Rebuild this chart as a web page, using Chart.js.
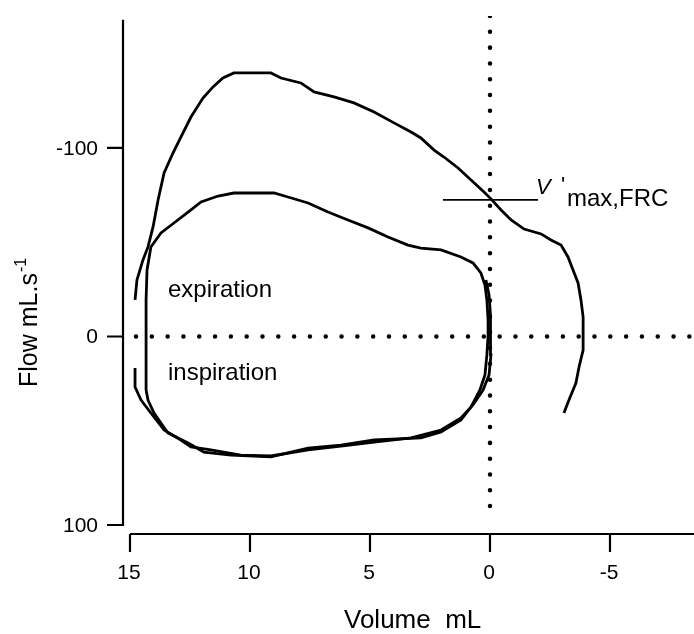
<!DOCTYPE html>
<html>
<head>
<meta charset="utf-8">
<script src="https://cdn.jsdelivr.net/npm/chart.js@4.4.0/dist/chart.umd.min.js"></script>
<style>
  body { margin: 0; background: #fff; }
  #wrap { width: 694px; height: 634px; position: relative; }
</style>
</head>
<body>
<div id="wrap"><canvas id="chart"></canvas></div>
<script>
// ---------------- DATA ----------------
// volume in mL, flow in mL/s (expiration plotted negative, upwards)

// raised-volume forced expiration
const forcedVolume = [14.79, 14.71, 14.46, 14.25, 14.04, 13.83, 13.58, 13.21, 12.88, 12.46,
  11.96, 11.54, 11.13, 10.67, 9.13, 8.71, 7.88, 7.33, 6.5, 5.67, 4.83, 4.0, 3.29, 2.88,
  2.33, 1.92, 1.33, 0.79, 0.25, -0.04, -0.46, -0.88, -1.42, -2.13, -2.54, -2.96, -3.25,
  -3.46, -3.67, -3.79, -3.88, -3.88, -3.88, -3.71, -3.58, -3.29, -3.08];
const forcedFlow = [-19.4, -30.0, -40.6, -47.5, -58.1, -72.4, -86.7, -97.3, -105.8, -116.4,
  -126.5, -132.4, -137.1, -139.8, -139.8, -137.1, -134.5, -129.7, -127.1, -123.9, -119.1,
  -113.3, -108.5, -105.3, -98.9, -95.2, -89.4, -83.0, -76.7, -73.0, -67.1, -61.8, -57.0,
  -54.4, -51.2, -48.5, -42.2, -35.3, -28.4, -19.4, -10.3, 0.3, 7.2, 16.2, 24.7, 33.7, 40.6];

// tidal loop 1
const tidalVolumeA = [14.33, 14.33, 14.33, 14.29, 14.13, 13.71, 13.17, 12.58, 12.04, 11.33,
  10.67, 9.0, 8.42, 7.58, 6.75, 5.92, 5.08, 4.25, 3.42, 2.88, 2.04, 1.21, 0.71, 0.38, 0.21,
  0.13, 0.08, 0.08, 0.13, 0.21, 0.42, 0.79, 1.21, 2.04, 2.88, 4.83, 6.21, 7.58, 9.13, 10.79,
  11.92, 12.58, 13.42, 14.0, 14.25, 14.33];
const tidalFlowA = [28.4, 1.9, -19.4, -35.3, -47.5, -54.9, -60.2, -66.0, -71.4, -74.5,
  -76.1, -76.1, -74.0, -70.8, -66.0, -61.8, -57.6, -52.8, -48.5, -46.9, -45.9, -42.2, -39.0,
  -33.7, -27.3, -19.4, -8.8, -0.3, 9.8, 20.4, 28.4, 37.4, 44.3, 50.7, 53.8, 54.9, 57.6, 59.2,
  63.9, 62.9, 61.3, 56.5, 51.2, 40.6, 33.7, 28.4];

// tidal loop 2 (inspiration from raised volume)
const tidalVolumeB = [14.79, 14.79, 14.54, 14.13, 13.58, 12.88, 12.46, 11.63, 10.38, 9.13,
  7.58, 6.21, 4.83, 3.29, 2.04, 1.21, 0.71, 0.29, 0.04, -0.04, -0.04, 0.0, 0.04, 0.17];
const tidalFlowB = [16.7, 26.8, 33.7, 40.6, 49.6, 54.9, 58.6, 60.2, 62.9, 63.4,
  60.2, 58.1, 56.0, 53.8, 49.6, 43.2, 36.3, 28.4, 20.4, 9.8, -0.3, -11.4, -22.0, -30.0];

// V'max,FRC marker
const frcVolume = [1.96, -2.0];
const frcFlow = [-72.5, -72.5];

// zero reference lines
const zeroVolumeLine = [14.75, -8.5];
const zeroFlowLine = [-170, 98];

const xTicks = [15, 10, 5, 0, -5];
const yTicks = [-100, 0, 100];

const FONT = "'Liberation Sans', Arial, sans-serif";

function toPoints(xs, ys) {
  return xs.map((x, i) => ({ x: x, y: ys[i] }));
}

// ---------------- AXES + TEXT ----------------
const axesPlugin = {
  id: "axes",
  afterDraw(chart) {
    const { ctx } = chart;
    const x = chart.scales.x;
    const y = chart.scales.y;
    ctx.save();
    ctx.strokeStyle = "#000";
    ctx.fillStyle = "#000";
    ctx.lineWidth = 2.2;

    // y axis (offset left of plot)
    const ax = 123;
    ctx.beginPath();
    ctx.moveTo(ax, y.getPixelForValue(-168));
    ctx.lineTo(ax, y.getPixelForValue(100) + 1);
    yTicks.forEach((t) => {
      const py = y.getPixelForValue(t);
      ctx.moveTo(107, py);
      ctx.lineTo(ax, py);
    });
    ctx.stroke();

    ctx.font = "21px " + FONT;
    ctx.textAlign = "right";
    ctx.textBaseline = "middle";
    yTicks.forEach((t) => {
      ctx.fillText(String(t), 98, y.getPixelForValue(t) + 1);
    });

    // x axis (offset below plot)
    const ay = 534;
    ctx.beginPath();
    ctx.moveTo(x.getPixelForValue(15), ay);
    ctx.lineTo(chart.width, ay);
    xTicks.forEach((t) => {
      const px = x.getPixelForValue(t);
      ctx.moveTo(px, ay);
      ctx.lineTo(px, 552);
    });
    ctx.stroke();

    ctx.textAlign = "center";
    xTicks.forEach((t) => {
      ctx.fillText(String(t), x.getPixelForValue(t) - 1, 573);
    });

    // axis titles
    ctx.textBaseline = "alphabetic";
    ctx.textAlign = "left";
    ctx.font = "26px " + FONT;
    ctx.fillText("Volume  mL", 344, 628);

    ctx.save();
    ctx.translate(37, 387);
    ctx.rotate(-Math.PI / 2);
    ctx.font = "25px " + FONT;
    const main = "Flow mL.s";
    const w1 = ctx.measureText(main).width;
    ctx.fillText(main, 0, 0);
    ctx.font = "16px " + FONT;
    ctx.fillText("-1", w1 + 1, -11);
    ctx.restore();

    // annotations
    ctx.font = "24px " + FONT;
    ctx.fillText("expiration", 168, 297);
    ctx.fillText("inspiration", 168, 380);

    ctx.font = "italic 22px " + FONT;
    ctx.fillText("V", 536, 194);
    ctx.font = "22px " + FONT;
    ctx.fillText("'", 561, 192);
    ctx.font = "24px " + FONT;
    ctx.fillText("max,FRC", 567, 206);

    ctx.restore();
  },
};

// ---------------- CHART ----------------
const lineStyle = {
  borderColor: "#000",
  borderWidth: 2.8,
  pointRadius: 0,
  tension: 0,
  fill: false,
  showLine: true,
};

const dotted = {
  borderColor: "#000",
  borderWidth: 4.5,
  borderDash: [0.01, 15.8],
  borderCapStyle: "round",
  pointRadius: 0,
  fill: false,
  showLine: true,
};

new Chart(document.getElementById("chart"), {
  type: "scatter",
  data: {
    datasets: [
      { ...dotted, data: toPoints(zeroVolumeLine, [0, 0]) },
      { ...dotted, data: toPoints([0, 0], zeroFlowLine) },
      { ...lineStyle, data: toPoints(forcedVolume, forcedFlow) },
      { ...lineStyle, data: toPoints(tidalVolumeA, tidalFlowA) },
      { ...lineStyle, data: toPoints(tidalVolumeB, tidalFlowB) },
      { ...lineStyle, borderWidth: 1.8, data: toPoints(frcVolume, frcFlow) },
    ],
  },
  options: {
    responsive: true,
    maintainAspectRatio: false,
    animation: false,
    layout: { padding: { left: 130, right: 0, top: 16, bottom: 109 } },
    scales: {
      x: { type: "linear", min: -8.5, max: 15, reverse: true, display: false },
      y: { type: "linear", min: -170, max: 100, reverse: true, display: false },
    },
    plugins: {
      legend: { display: false },
      tooltip: { enabled: false },
    },
  },
  plugins: [axesPlugin],
});
</script>
</body>
</html>
